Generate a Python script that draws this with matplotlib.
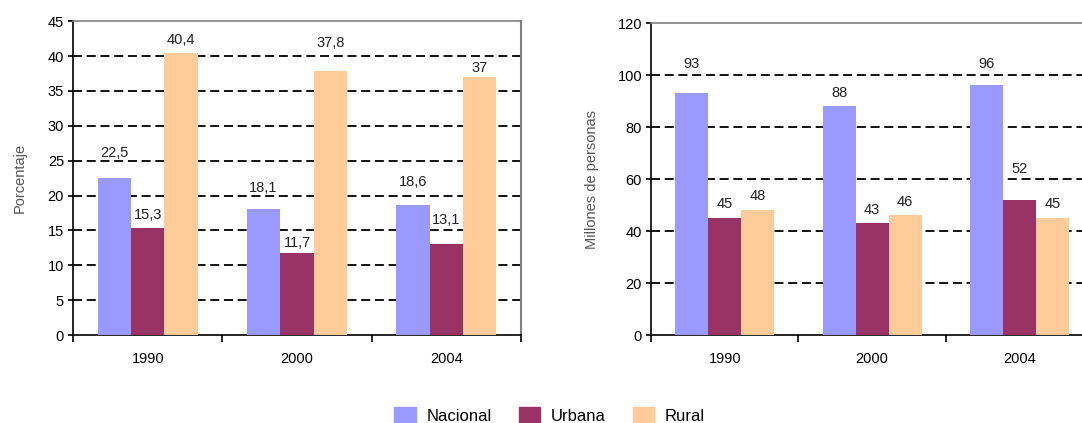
import numpy as np
import matplotlib.pyplot as plt
from matplotlib.patches import Patch

plt.rcParams['font.family'] = ['Liberation Sans', 'DejaVu Sans']

years = ["1990", "2000", "2004"]
series = ["Nacional", "Urbana", "Rural"]
colors = ["#9999FF", "#993366", "#FFCC99"]

pct_nacional = [22.5, 18.1, 18.6]
pct_urbana = [15.3, 11.7, 13.1]
pct_rural = [40.4, 37.8, 37]

mill_nacional = [93, 88, 96]
mill_urbana = [45, 43, 52]
mill_rural = [48, 46, 45]

# how far (px) each value label sits above its bar, as placed in the original
lift_pct = [[25, 21, 23], [13, 10, 24], [13, 28, 9]]
lift_mill = [[29, 13, 21], [14, 13, 31], [14, 13, 14]]

fig = plt.figure(figsize=(10.82, 4.23), dpi=100)
ax1 = fig.add_axes([0.0675, 0.208, 0.414, 0.742])
ax2 = fig.add_axes([0.6017, 0.208, 0.4085, 0.7376])


def fmt(v):
    return ("%g" % v).replace(".", ",")


def draw(ax, data, lifts, ymax, step, ylabel, lpad):
    x = np.arange(len(years))
    w = 0.224
    for i, vals in enumerate(data):
        pos = x + (i - 1) * w
        ax.bar(pos, vals, width=w, color=colors[i], zorder=3)
        for p, v, l in zip(pos, vals, lifts[i]):
            ax.annotate(fmt(v), (p, v), xytext=(0, l * 0.72), textcoords="offset points",
                        ha="center", va="center", fontsize=10.5, color="#222222", zorder=5)
    ax.set_xlim(-0.5, len(years) - 0.5)
    ax.set_ylim(0, ymax)
    ticks = np.arange(0, ymax + step, step)
    ax.set_yticks(ticks)
    for t in ticks[1:-1]:
        ax.axhline(t, color="black", linestyle=(0, (5, 2.6)), linewidth=1.3, zorder=1)
    ax.set_xticks(np.arange(-0.5, len(years), 1))
    ax.set_xticklabels([])
    ax.set_xticks(x, minor=True)
    ax.set_xticklabels(years, minor=True)
    ax.tick_params(axis="x", which="minor", length=0, pad=12, labelsize=10.5)
    ax.tick_params(axis="x", which="major", length=5, width=1.2, direction="out")
    ax.tick_params(axis="y", length=3.5, width=1.2, labelsize=10.5, pad=3)
    ax.spines["top"].set_color("#808080")
    ax.spines["right"].set_color("#808080")
    ax.spines["top"].set_linewidth(1.2)
    ax.spines["right"].set_linewidth(1.5)
    ax.spines["left"].set_linewidth(1.2)
    ax.spines["bottom"].set_linewidth(1.2)
    ax.set_ylabel(ylabel, fontsize=10.5, color="#555555", labelpad=lpad)


draw(ax1, [pct_nacional, pct_urbana, pct_rural], lift_pct, 45, 5, "Porcentaje", 15)
draw(ax2, [mill_nacional, mill_urbana, mill_rural], lift_mill, 120, 20, "Millones de personas", 13.5)

handles = [Patch(color=c, label=s) for c, s in zip(colors, series)]
fig.legend(handles=handles, loc="lower center", ncol=3, frameon=False,
           bbox_to_anchor=(0.508, -0.04), fontsize=12, handlelength=1.3,
           handleheight=1.3, handletextpad=0.65, columnspacing=1.6)

fig.savefig("out.png", dpi=100)
